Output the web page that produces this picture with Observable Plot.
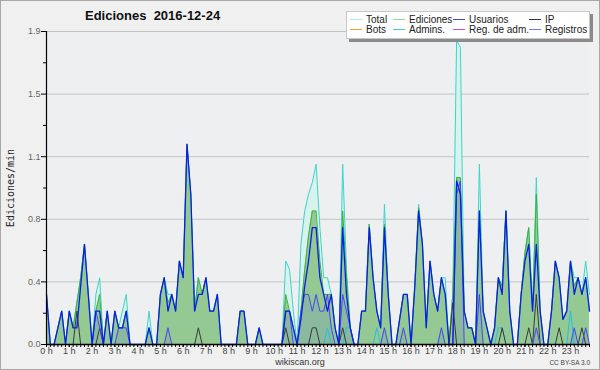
<!DOCTYPE html>
<html><head><meta charset="utf-8">
<script src="https://cdn.jsdelivr.net/npm/d3@7"></script>
<script src="https://cdn.jsdelivr.net/npm/@observablehq/plot@0.6"></script>
<style>
html,body{margin:0;padding:0;background:#f0f0f0;}
#wrap{position:relative;width:600px;height:370px;background:#f0f0f0;overflow:hidden;font-family:"Liberation Sans",sans-serif;}
#wrap svg{position:absolute;left:0;top:0;}
#border{position:absolute;left:0;top:0;width:600px;height:370px;box-sizing:border-box;border:1px solid #a8a8a8;pointer-events:none;}
#title{position:absolute;left:85px;top:8px;font:bold 13px "Liberation Sans",sans-serif;color:#111;white-space:pre;}
#ylab{position:absolute;left:10px;top:188px;transform:translate(-50%,-50%) rotate(-90deg);font:10px "DejaVu Sans Mono",monospace;color:#222;white-space:nowrap;}
#legend{position:absolute;left:346px;top:11px;width:242px;height:26px;background:#fff;border:1px solid #c8c8c8;box-shadow:3px 3px 0 #8a8a8a;font:10px "Liberation Sans",sans-serif;color:#222;}
.li{position:absolute;white-space:nowrap;line-height:10px;}
.mk{display:inline-block;width:12px;height:1px;vertical-align:middle;margin-right:4px;position:relative;top:-1px;}
#foot{position:absolute;left:0;width:600px;top:357px;text-align:center;font:9px "Liberation Sans",sans-serif;color:#333;line-height:10px;}
#cc{position:absolute;right:10px;top:359px;font:6.5px "Liberation Sans",sans-serif;color:#444;line-height:8px;}
</style></head>
<body><div id="wrap"></div>
<script>
// 10-minute bins, 0:00 .. 23:50 (144 points), edits per minute
const total = [
0.3,0,0,0.1,0.2,0,0.2,0.1,0.25,0.4,0.6,0.3,
0,0.3,0.4,0,0.2,0,0.2,0.1,0.2,0.3,0,0,
0,0,0,0.2,0,0,0.3,0.4,0.3,0.3,0.2,0.5,
0.4,1.2,0.9,0.2,0.4,0.3,0.4,0.2,0.2,0.3,0,0,
0,0,0,0.2,0.2,0,0,0,0.1,0,0,0,
0,0,0,0.5,0.45,0.2,0,0.6,0.8,0.9,0.97,1.08,
0.7,0.4,0.4,0.3,0.1,0,1.08,0.45,0.1,0,0,0.2,
0.2,0.72,0.4,0.2,0.1,0.84,0.3,0,0,0.15,0.3,0.3,
0,0.35,0.84,0.6,0.1,0.5,0.3,0.2,0.4,0.4,0,0.3,
1.82,1.78,0.2,0.1,0.1,0,1.08,0.2,0.1,0,0.1,0.4,
0.35,0.8,0.2,0,0,0.3,0.55,0.7,0.2,1.0,0.2,0,
0,0.2,0.5,0.4,0.15,0.2,0.5,0.4,0.4,0.3,0.5,0.3];
const ediciones = [
0.3,0,0,0.1,0.2,0,0.2,0.1,0.25,0.4,0.6,0.3,
0,0.2,0.3,0,0.2,0,0.2,0.1,0.1,0.2,0,0,
0,0,0,0.1,0,0,0.3,0.4,0.25,0.3,0.2,0.5,
0.4,1.2,0.9,0.2,0.4,0.3,0.4,0.2,0.2,0.3,0,0,
0,0,0,0.2,0.2,0,0,0,0.1,0,0,0,
0,0,0,0.3,0.2,0.1,0,0.2,0.45,0.65,0.8,0.8,
0.5,0.3,0.3,0.3,0.1,0,0.8,0.4,0.1,0,0,0.2,
0.2,0.72,0.4,0.2,0.1,0.72,0.3,0,0,0.15,0.3,0.3,
0,0.35,0.82,0.6,0.1,0.5,0.3,0.2,0.4,0.3,0,0.3,
1.0,1.0,0.2,0.1,0.1,0,0.8,0.2,0.1,0,0.1,0.4,
0.35,0.8,0.2,0,0,0.3,0.55,0.7,0.2,0.9,0.2,0,
0,0.2,0.5,0.4,0.15,0.2,0.5,0.35,0.4,0.3,0.4,0.2];
const usuarios = [
0.3,0,0,0.1,0.2,0,0.2,0.1,0.1,0.35,0.6,0.3,
0,0.2,0.2,0,0.2,0,0.2,0.1,0.1,0.2,0,0,
0,0,0,0.1,0,0,0.3,0.4,0.2,0.3,0.2,0.5,
0.4,1.2,0.9,0.2,0.3,0.3,0.4,0.2,0.2,0.3,0,0,
0,0,0,0.2,0.2,0,0,0,0.1,0,0,0,
0,0,0,0.2,0.2,0.1,0,0.15,0.35,0.5,0.7,0.7,
0.4,0.3,0.2,0.3,0.1,0,0.7,0.3,0.1,0,0,0.2,
0.2,0.7,0.4,0.2,0.1,0.7,0.3,0,0,0.15,0.3,0.3,
0,0.35,0.8,0.6,0.1,0.5,0.3,0.2,0.4,0.3,0,0,
0.98,0.9,0.2,0.1,0.1,0,0.8,0.2,0.1,0,0.1,0.4,
0.3,0.8,0.2,0,0,0.3,0.5,0.6,0.2,0.6,0.2,0,
0,0.2,0.5,0.4,0.15,0.2,0.5,0.3,0.4,0.3,0.4,0.2];
const ip = [
0,0,0,0,0,0,0,0,0.2,0,0,0,
0,0,0.1,0,0,0,0,0,0,0,0,0,
0,0,0,0,0,0,0,0,0,0,0,0,
0,0,0,0,0.1,0,0,0,0,0,0,0,
0,0,0,0,0,0,0,0,0,0,0,0,
0,0,0,0.1,0,0,0,0,0,0,0.1,0.1,
0,0,0,0,0,0,0.1,0,0,0,0,0,
0,0,0,0,0,0,0,0,0,0,0,0,
0,0,0,0,0,0,0,0,0,0,0,0.25,
0,0,0,0,0,0,0,0,0,0,0,0,
0.1,0,0,0,0,0,0,0.1,0,0.3,0,0,
0,0,0,0.1,0,0,0,0,0,0.1,0,0];
const registros = [
0,0,0,0,0,0,0,0,0,0,0,0,
0,0.2,0.1,0,0,0,0,0.1,0.1,0.1,0,0,
0,0,0,0,0,0,0,0,0.1,0,0,0,
0,0,0,0,0,0,0,0,0,0,0,0,
0,0,0,0,0,0,0,0,0,0,0,0,
0,0,0,0.2,0.2,0,0,0.2,0.3,0.3,0.2,0.3,
0.2,0.2,0.3,0.1,0,0,0.3,0.2,0.1,0,0,0,
0,0,0,0,0,0.1,0,0,0,0,0.1,0,
0,0,0,0,0,0,0,0,0.1,0,0,0,
0.9,0.98,0,0,0,0,0.3,0,0,0,0,0,
0,0,0,0,0,0,0,0,0,0.1,0,0,
0,0,0,0,0,0,0,0.1,0,0,0.1,0];
const admins = [
0,0,0,0,0,0,0,0,0,0,0,0,
0,0,0,0,0,0,0,0,0,0,0,0,
0,0,0,0,0,0,0,0,0,0,0,0,
0,0,0,0,0,0,0,0,0,0,0,0,
0,0,0,0,0,0,0,0,0,0,0,0,
0,0,0,0,0,0,0,0,0,0,0,0,
0,0,0.1,0,0,0,0,0.1,0.1,0,0,0,
0,0,0,0.1,0,0,0,0,0,0,0,0,
0,0,0,0,0,0,0,0,0,0,0,0,
0,0,0,0,0,0,0,0,0,0,0,0.1,
0.1,0,0,0,0,0,0,0,0,0,0,0,
0,0,0,0,0,0,0.2,0,0,0,0,0];
const hourTicks = [0,1,2,3,4,5,6,7,8,9,10,11,12,13,14,15,16,17,18,19,20,21,22,23];
const yTicks = [0,0.375,0.75,1.125,1.5,1.875];
const yMinorTicks = [0.1875,0.5625,0.9375,1.3125,1.6875];
const legendItems = [
  ["Total","#aee8e8"],["Ediciones","#9ad89a"],["Usuarios","#4646dc"],["IP","#333333"],
  ["Bots","#f2a03c"],["Admins.","#48c4dc"],["Reg. de adm.","#d048d0"],["Registros","#7878ee"]
];

const rows = total.map((t,i)=>({h:i/6, T:t, E:ediciones[i], U:usuarios[i], G:ip[i], R:registros[i], A:admins[i]}));
const minorX = rows.map(d=>d.h);

const chart = Plot.plot({
  width:600, height:370,
  marginLeft:46, marginRight:11, marginTop:31, marginBottom:26,
  x:{domain:[0,143/6]},
  y:{domain:[0,1.875]},
  style:{background:"transparent", fontFamily:"Liberation Sans", fontSize:"9px", overflow:"visible"},
  marks:[
    Plot.frame({fill:"#eeeff1", stroke:null}),
    Plot.gridY(yTicks.slice(1), {stroke:"#c4c4c4", strokeOpacity:1}),
    Plot.areaY(rows,{x:"h", y:"T", fill:"#d8f3ee"}),
    Plot.areaY(rows,{x:"h", y:"E", fill:"#94c994"}),
    Plot.areaY(rows,{x:"h", y:"R", fill:"#4a4ae6", fillOpacity:0.13}),
    Plot.lineY(rows,{x:"h", y:"T", stroke:"#3ed4c8", strokeWidth:1}),
    Plot.lineY(rows,{x:"h", y:"E", stroke:"#3db33d", strokeWidth:1}),
    Plot.lineY(rows,{x:"h", y:"A", stroke:"#22c2e2", strokeWidth:1}),
    Plot.lineY(rows,{x:"h", y:"G", stroke:"#3a3a3a", strokeWidth:1}),
    Plot.lineY(rows,{x:"h", y:"R", stroke:"#4646f0", strokeWidth:1}),
    Plot.lineY(rows,{x:"h", y:"U", stroke:"#0a1ee6", strokeWidth:1.3}),
    Plot.axisY(yMinorTicks,{tickSize:3, tickFormat:()=>"", label:null, stroke:"#000"}),
    Plot.axisY(yTicks,{tickSize:5, tickPadding:1, tickFormat:d=>d.toFixed(1), label:null, stroke:"#000", fill:"#666"}),
    Plot.axisX(minorX,{tickSize:3, tickFormat:()=>"", label:null, stroke:"#000"}),
    Plot.axisX(hourTicks,{tickSize:3, tickPadding:0, tickFormat:d=>d+" h", label:null, stroke:"#000", fill:"#444"}),
    Plot.ruleX([0],{stroke:"#000", strokeWidth:1.2}),
    Plot.ruleY([0],{stroke:"#000", strokeWidth:1.6})
  ]
});

const wrap = document.getElementById("wrap");
wrap.appendChild(chart);

function add(id, text){const d=document.createElement("div"); d.id=id; d.textContent=text; wrap.appendChild(d); return d;}
add("title","Ediciones  2016-12-24");
add("ylab","Ediciones/min");
add("foot","wikiscan.org");
add("cc","CC BY-SA 3.0");
const leg = document.createElement("div"); leg.id="legend"; wrap.appendChild(leg);
const colX = [3,46,106,182];
legendItems.forEach(([name,color],k)=>{
  const it=document.createElement("div"); it.className="li";
  it.style.left=colX[k%4]+"px"; it.style.top=(k<4?3:13)+"px";
  const m=document.createElement("span"); m.className="mk"; m.style.background=color;
  it.appendChild(m); it.appendChild(document.createTextNode(name));
  leg.appendChild(it);
});
const b=document.createElement("div"); b.id="border"; wrap.appendChild(b);
</script></body></html>
